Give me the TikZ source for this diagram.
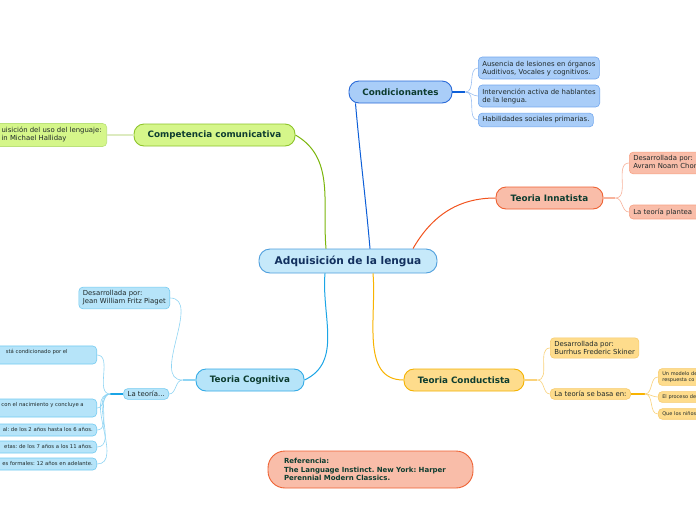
\documentclass[tikz,border=0pt]{standalone}
\usepackage{fontspec}
\setmainfont{DejaVu Sans}
\frenchspacing
\definecolor{rootfill}{HTML}{C6E9FA}
\definecolor{rootdraw}{HTML}{4F9FDD}
\definecolor{roottext}{HTML}{12305E}
\definecolor{titletext}{HTML}{0E3D30}
\definecolor{leaftext}{HTML}{202A2A}
\definecolor{condfill}{HTML}{A9CDF8}
\definecolor{conddraw}{HTML}{2A6AD8}
\definecolor{condline}{HTML}{0D5FD8}
\definecolor{condleafdraw}{HTML}{74A8EE}
\definecolor{condleafline}{HTML}{9CC0F2}
\definecolor{innfill}{HTML}{F9BDA9}
\definecolor{inndraw}{HTML}{EE6233}
\definecolor{innline}{HTML}{F2531E}
\definecolor{innleafdraw}{HTML}{F7A184}
\definecolor{innleafline}{HTML}{F8B39C}
\definecolor{compfill}{HTML}{D5F68A}
\definecolor{compdraw}{HTML}{8DC42A}
\definecolor{compline}{HTML}{7BB60C}
\definecolor{compleafdraw}{HTML}{BBE27A}
\definecolor{compleafline}{HTML}{DDEBC0}
\definecolor{cogfill}{HTML}{B6E4F9}
\definecolor{cogdraw}{HTML}{34ABE6}
\definecolor{cogline}{HTML}{1BA5E6}
\definecolor{cogleafdraw}{HTML}{74CBF1}
\definecolor{cogleafline}{HTML}{90D5F4}
\definecolor{condufill}{HTML}{FEDC8C}
\definecolor{condudraw}{HTML}{F4B200}
\definecolor{conduline}{HTML}{F8B300}
\definecolor{conduleafdraw}{HTML}{F7CB6C}
\definecolor{conduleafline}{HTML}{FAD27A}
\newcommand{\cutleft}[1]{\hspace*{30pt}\begin{tabular}{@{}l@{}}#1\end{tabular}}
\begin{document}
\begin{tikzpicture}[x=1pt, y=1pt,
  topic/.style={draw, rounded corners=10pt, line width=0.9pt, text=titletext, inner sep=0pt, minimum height=22pt, font=\fontsize{8.8}{10}\selectfont\bfseries},
  leaf/.style={draw, rounded corners=4pt, line width=0.6pt, text=leaftext, align=left, inner xsep=4pt, inner ysep=3.5pt, font=\fontsize{6.9}{8}\selectfont},
  tinyleaf/.style={leaf, inner ysep=3pt, font=\fontsize{5.3}{6}\selectfont},
  branch/.style={line width=1pt},
  twig/.style={line width=0.6pt}]
\useasboundingbox (0,0) rectangle (696,-520);
\fill[white] (0,0) rectangle (696,-520);
\clip (0,0) rectangle (696,-520);
\node[draw=rootdraw, fill=rootfill, rounded corners=11pt, line width=0.9pt, minimum width=178pt, minimum height=24pt, inner sep=0pt, text=roottext, font=\fontsize{10.6}{12}\selectfont\bfseries] (root) at (348,-261) {Adquisición de la lengua};
\node[topic, draw=conddraw, fill=condfill, minimum width=103pt] (cond) at (400.5,-92) {Condicionantes};
\node[topic, draw=inndraw, fill=innfill, minimum width=107pt] (inn) at (549.5,-198) {Teoria Innatista};
\node[topic, draw=compdraw, fill=compfill, minimum width=161pt] (comp) at (214.5,-135) {Competencia comunicativa};
\node[topic, draw=cogdraw, fill=cogfill, minimum width=108pt] (cog) at (250,-380) {Teoria Cognitiva};
\node[topic, draw=condudraw, fill=condufill, minimum width=120pt] (condu) at (464,-380) {Teoria Conductista};
\node[draw=inndraw, fill=innfill, rounded corners=17pt, line width=0.9pt, minimum width=205pt, minimum height=37pt, text width=173pt, inner xsep=16pt, align=left, text=titletext, font=\fontsize{7}{8.2}\selectfont\bfseries] (ref) at (370.5,-469.5) {Referencia:\\The Language Instinct. New York: Harper\\Perennial Modern Classics.};
\node[leaf, draw=condleafdraw, fill=condfill, anchor=west] (cond1) at (478,-68) {Ausencia de lesiones en órganos\\Auditivos, Vocales y cognitivos.};
\node[leaf, draw=condleafdraw, fill=condfill, anchor=west] (cond2) at (478,-96) {Intervención activa de hablantes\\de la lengua.};
\node[leaf, draw=condleafdraw, fill=condfill, anchor=west] (cond3) at (478,-120) {Habilidades sociales primarias.};
\node[leaf, draw=innleafdraw, fill=innfill, anchor=west, text width=90pt] (inn1) at (629,-163) {Desarrollada por:\\Avram Noam Chomsky};
\node[leaf, draw=innleafdraw, fill=innfill, anchor=west, text width=90pt] (inn2) at (629,-212) {La teoría plantea};
\node[leaf, draw=compleafdraw, fill=compfill, anchor=east, inner xsep=5pt] (comp1) at (107,-135) {\cutleft{uisición del uso del lenguaje:\\in Michael Halliday}};
\node[leaf, draw=cogleafdraw, fill=cogfill, anchor=east] (cog1) at (170,-298) {Desarrollada por:\\Jean William Fritz Piaget};
\node[leaf, draw=cogleafdraw, fill=cogfill, anchor=east, inner ysep=2.5pt] (cog2) at (169,-394) {La teoría...};
\node[tinyleaf, draw=cogleafdraw, fill=cogfill, anchor=east] (cogA) at (97,-355) {\cutleft{stá condicionado por el\hspace*{25pt}\\\mbox{}}};
\node[tinyleaf, draw=cogleafdraw, fill=cogfill, anchor=east] (cogB) at (97,-408) {\cutleft{con el nacimiento y concluye a\hspace*{9pt}\\\mbox{}}};
\node[tinyleaf, draw=cogleafdraw, fill=cogfill, anchor=east] (cogC) at (97,-430) {\cutleft{al: de los 2 años hasta los 6 años.}};
\node[tinyleaf, draw=cogleafdraw, fill=cogfill, anchor=east] (cogD) at (97,-447) {\cutleft{etas: de los 7 años a los 11 años.}};
\node[tinyleaf, draw=cogleafdraw, fill=cogfill, anchor=east] (cogE) at (97,-464) {\cutleft{es formales: 12 años en adelante.}};
\node[leaf, draw=conduleafdraw, fill=condufill, anchor=west] (condu1) at (550,-348) {Desarrollada por:\\Burrhus Frederic Skiner};
\node[leaf, draw=conduleafdraw, fill=condufill, anchor=west, inner ysep=2.5pt] (condu2) at (550,-394) {La teoría se basa en:};
\node[tinyleaf, draw=conduleafdraw, fill=condufill, anchor=west, text width=50pt, font=\fontsize{5}{6}\selectfont] (conduA) at (658,-377) {Un modelo de\\respuesta co};
\node[tinyleaf, draw=conduleafdraw, fill=condufill, anchor=west, text width=50pt, font=\fontsize{5}{6}\selectfont] (conduB) at (658,-397) {El proceso de};
\node[tinyleaf, draw=conduleafdraw, fill=condufill, anchor=west, text width=50pt, font=\fontsize{5}{6}\selectfont] (conduC) at (658,-414) {Que los niños};
\draw[branch, condline] ([xshift=22pt]root.north) to[out=95,in=-85] ([xshift=-45pt]cond.south);
\draw[branch, innline] ([xshift=65pt]root.north) to[out=60,in=180] (inn.west);
\draw[branch, compline] ([xshift=-22pt]root.north) to[out=95,in=-30] (comp.east);
\draw[branch, cogline] ([xshift=-23pt]root.south) to[out=-95,in=25] (cog.east);
\draw[branch, conduline] ([xshift=25pt]root.south) to[out=-85,in=180] (condu.west);
\coordinate (condhub) at ([xshift=13pt]cond.east);
\draw[condline, line width=1.2pt] (cond.east) -- (condhub);
\foreach \n in {cond1,cond2,cond3} \draw[twig, condleafline] (condhub) to[out=0,in=180] (\n.west);
\coordinate (innhub) at ([xshift=12pt]inn.east);
\draw[innleafline, line width=1.2pt] (inn.east) -- (innhub);
\foreach \n in {inn1,inn2} \draw[twig, innleafline] (innhub) to[out=0,in=180] (\n.west);
\draw[compleafline, line width=2pt] (comp.west) -- (comp1.east);
\coordinate (coghub) at ([xshift=-13pt]cog.west);
\draw[cogleafline, line width=1.2pt] (cog.west) -- (coghub);
\foreach \n in {cog1,cog2} \draw[twig, cogleafline] (coghub) to[out=180,in=0] (\n.east);
\coordinate (cog2hub) at ([xshift=-13pt]cog2.west);
\draw[cogline, line width=1.2pt] (cog2.west) -- (cog2hub);
\foreach \n in {cogA,cogB,cogC,cogD,cogE} \draw[twig, cogleafline] (cog2hub) to[out=180,in=0] (\n.east);
\coordinate (conduhub) at ([xshift=13pt]condu.east);
\draw[conduleafline, line width=1.2pt] (condu.east) -- (conduhub);
\foreach \n in {condu1,condu2} \draw[twig, conduleafline] (conduhub) to[out=0,in=180] (\n.west);
\coordinate (condu2hub) at ([xshift=14pt]condu2.east);
\draw[conduline, line width=1.2pt] (condu2.east) -- (condu2hub);
\foreach \n in {conduA,conduB,conduC} \draw[twig, conduleafline] (condu2hub) to[out=0,in=180] (\n.west);
\end{tikzpicture}
\end{document}
